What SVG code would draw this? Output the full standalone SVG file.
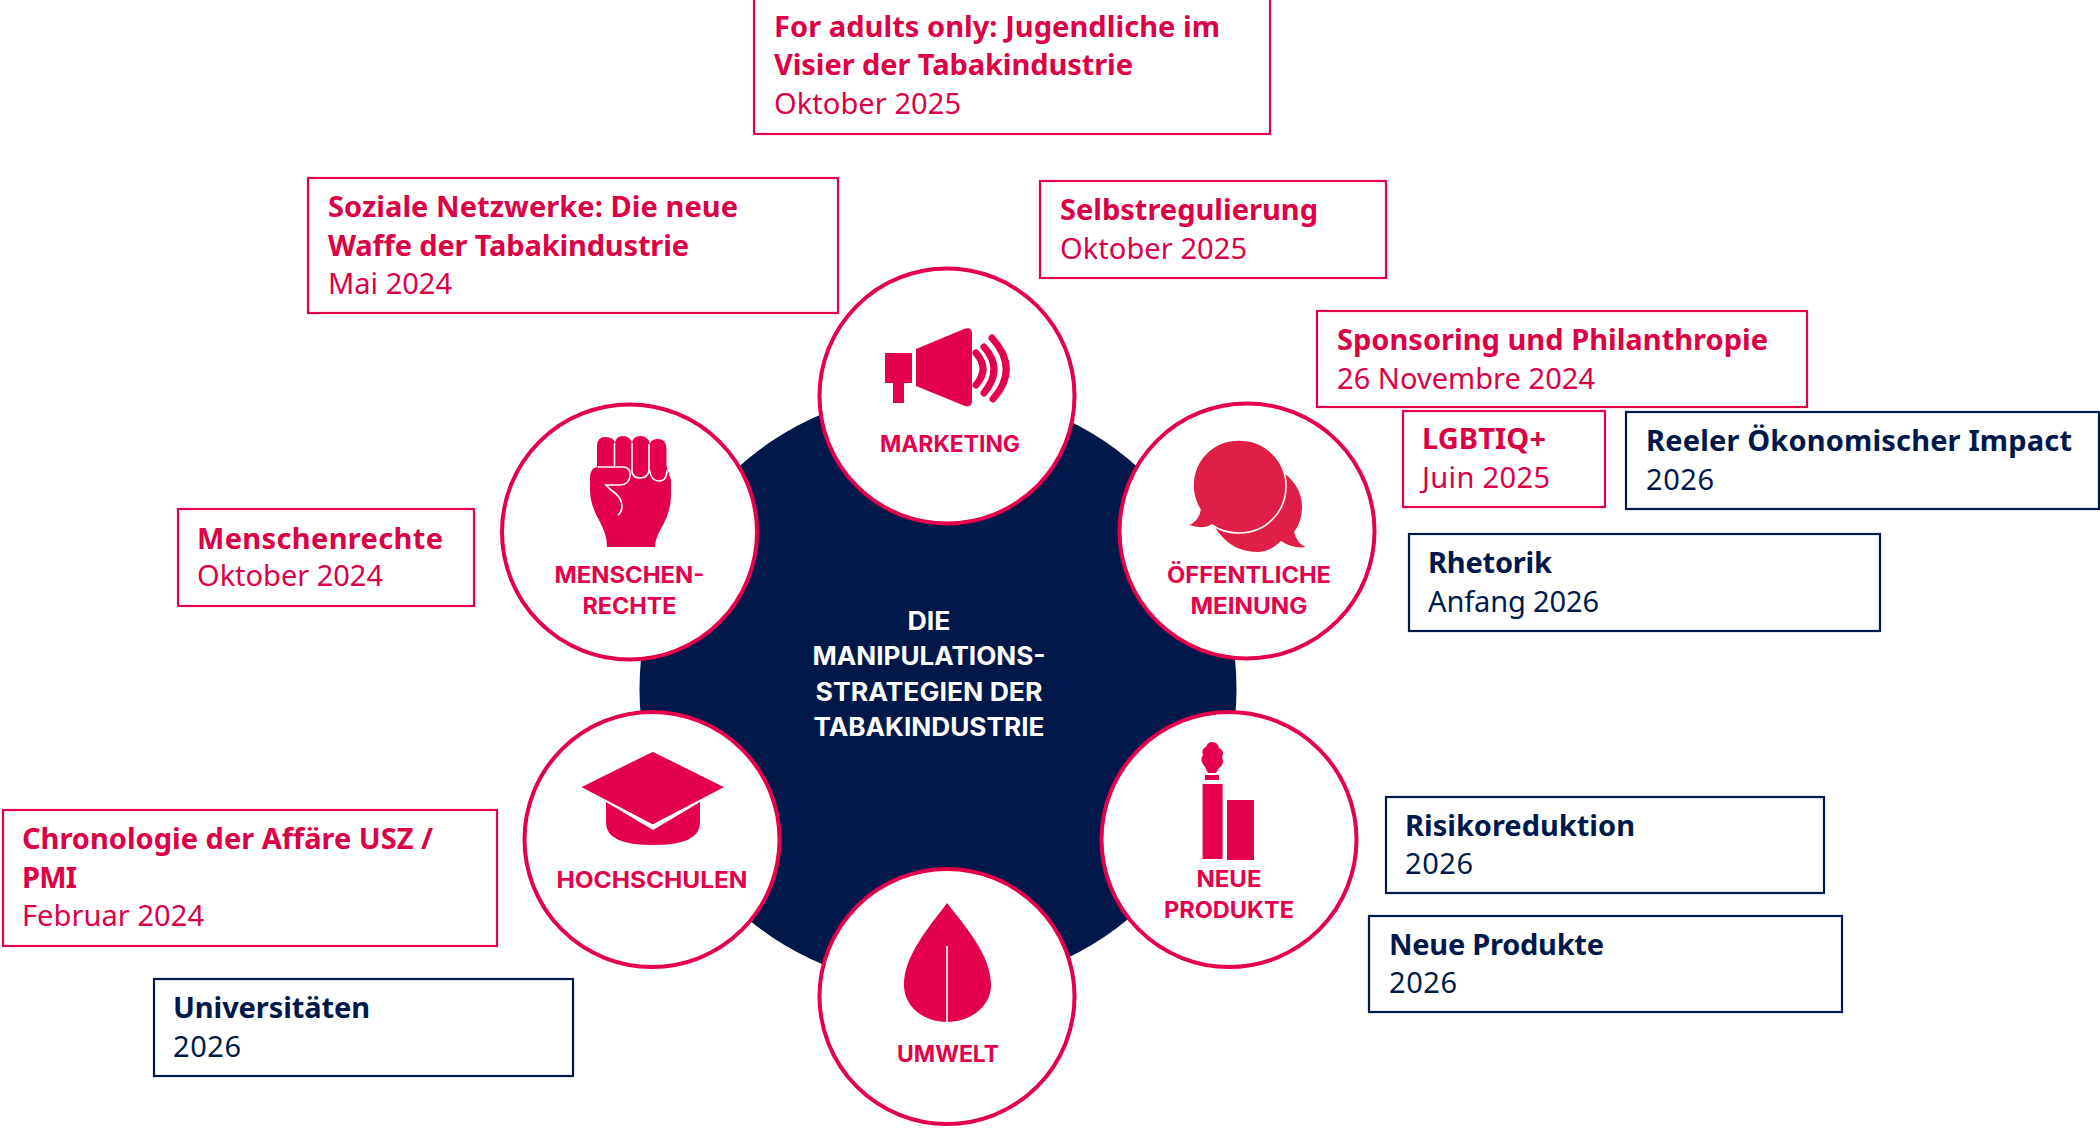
<svg xmlns="http://www.w3.org/2000/svg" width="2100" height="1139" viewBox="0 0 2100 1139">
<style>
.box{fill:#fff;stroke-width:2.2}
.r{stroke:#E4004B}
.n{stroke:#00194A}
text{font-family:"Noto Sans","Liberation Sans",sans-serif;font-size:29px}
.rt{fill:#DC0045}
.nt{fill:#00194A}
.b{font-weight:700}
.c{fill:#fff;stroke:#E4004B;stroke-width:4}
.lab{font-family:"Inter","Liberation Sans",sans-serif;font-size:22.500px;font-weight:700;fill:#E4004B;text-anchor:middle}
.mid{font-family:"Inter","Liberation Sans",sans-serif;font-size:25px;font-weight:700;fill:#fff;text-anchor:middle}
.i{fill:#E4004B}
.w{fill:none;stroke:#fff;stroke-width:1.6}
.wave{fill:none;stroke:#E4004B;stroke-width:7;stroke-linecap:round}
</style>
<rect width="2100" height="1139" fill="#fff"/>
<g id="hub"><circle cx="938" cy="689" r="298.500" fill="#00194A"/>
<text class="mid" x="929" y="630" textLength="43" lengthAdjust="spacingAndGlyphs">DIE</text>
<text class="mid" x="929" y="665" textLength="233" lengthAdjust="spacingAndGlyphs">MANIPULATIONS-</text>
<text class="mid" x="929" y="701" textLength="227" lengthAdjust="spacingAndGlyphs">STRATEGIEN DER</text>
<text class="mid" x="929" y="736" textLength="231" lengthAdjust="spacingAndGlyphs">TABAKINDUSTRIE</text></g>

<g id="marketing"><circle class="c" cx="947" cy="396" r="127.500"/>
<path class="i" d="M885 353H912V383H904V403H893V383H885Z"/>
<path class="i" d="M916 349L964 329Q972 326 972 334V400Q972 408 965 406L916 386Z"/>
<path class="wave" d="M976 353Q990 369 976 385"/><path class="wave" d="M984 347Q1004 369 984 393"/><path class="wave" d="M992 338Q1020 369 993 399"/>
<text class="lab" x="950" y="452" textLength="140" lengthAdjust="spacingAndGlyphs">MARKETING</text></g>

<g id="menschenrechte"><circle class="c" cx="629.500" cy="532" r="127.500"/>
<path class="i" d="M590 478Q590 468 597 467V446Q597 437 605.500 437Q614 437 615 443Q616 436 623 436Q630 436 632 443Q633 436 640.500 436Q648 436 650 444Q651 439 658 439Q666 439 666.500 448V466L671 480V495Q671 510 663 525Q655 538 655 547H607Q607 535 600 522Q590 505 590 490Z"/>
<path class="w" d="M597.500 467H624Q631 468 630 476Q629 485 620 485H606L611 490Q622 497 622 506Q622 512 618 515"/>
<path class="w" d="M632 443V472Q633 478 640 478Q648 478 649 470V444M649.500 470Q651 481 659 481Q667 481 667 470"/>
<path class="w" d="M614.500 443V466"/>
<text class="lab" x="629.500" y="583" textLength="150" lengthAdjust="spacingAndGlyphs">MENSCHEN-</text>
<text class="lab" x="629.500" y="614" textLength="94" lengthAdjust="spacingAndGlyphs">RECHTE</text></g>

<g id="oeffentliche-meinung"><circle class="c" cx="1247" cy="531" r="127.500"/>
<path fill="#DF1F47" d="M1284 473Q1302 487 1302 507Q1302 522 1294 532Q1297 544 1306 547Q1293 549 1281 541Q1270 552 1257 552Q1230 552 1214 526Z"/>
<path fill="#DF1F47" stroke="#fff" stroke-width="1.600" d="M1239 440C1265 440 1286 460 1286 486C1286 512 1266 533 1239 533C1228 533 1219 530 1212 525C1205 530 1195 528 1187 525C1194 523 1199 517 1200 510C1196 503 1193 495 1193 486C1193 460 1213 440 1239 440Z"/>
<text class="lab" x="1249" y="583" textLength="164" lengthAdjust="spacingAndGlyphs">ÖFFENTLICHE</text>
<text class="lab" x="1249" y="614" textLength="117" lengthAdjust="spacingAndGlyphs">MEINUNG</text></g>

<g id="hochschulen"><circle class="c" cx="652" cy="839.500" r="127.500"/>
<path class="i" d="M606 802V823Q606 845 653 845Q700 845 700 823V802L653 830Z"/>
<path class="i" stroke="#fff" stroke-width="1.400" d="M652.700 751L725.500 787L652.700 825L580 787Z"/>
<text class="lab" x="652" y="888" textLength="191" lengthAdjust="spacingAndGlyphs">HOCHSCHULEN</text></g>

<g id="neue-produkte"><circle class="c" cx="1229" cy="839.500" r="127.500"/>
<path class="i" d="M1212 742Q1218 742 1219 748Q1225 751 1222 757Q1225 764 1219 768L1216 773H1208L1205 767Q1199 760 1203 755Q1201 749 1206 747Q1208 742 1212 742Z"/>
<rect class="i" x="1205" y="775" width="14" height="5"/>
<rect class="i" x="1202.600" y="784" width="20" height="75"/>
<rect class="i" x="1227" y="800" width="27" height="60"/>
<text class="lab" x="1229" y="887" textLength="65" lengthAdjust="spacingAndGlyphs">NEUE</text>
<text class="lab" x="1229" y="918" textLength="130" lengthAdjust="spacingAndGlyphs">PRODUKTE</text></g>

<g id="umwelt"><circle class="c" cx="947" cy="996.500" r="127.500"/>
<path class="i" d="M947 903C965 926 991 955 991 985C991 1007 970 1022 947 1022C924 1022 904 1007 904 985C904 955 930 926 947 903Z"/>
<path class="w" d="M947 946V1022"/>
<text class="lab" x="948" y="1062" textLength="102" lengthAdjust="spacingAndGlyphs">UMWELT</text></g>

<g id="for-adults"><rect class="box r" x="754" y="-4" width="516" height="138"/>
<text class="rt b" x="774" y="37" textLength="446">For adults only: Jugendliche im</text>
<text class="rt b" x="774" y="75" textLength="359">Visier der Tabakindustrie</text>
<text class="rt" x="774" y="114" textLength="187">Oktober 2025</text></g>
<g id="selbstregulierung"><rect class="box r" x="1040" y="181" width="346" height="97"/>
<text class="rt b" x="1060" y="220" textLength="258">Selbstregulierung</text>
<text class="rt" x="1060" y="259" textLength="187">Oktober 2025</text></g>
<g id="soziale-netzwerke"><rect class="box r" x="308" y="178" width="530" height="135"/>
<text class="rt b" x="328" y="217" textLength="410">Soziale Netzwerke: Die neue</text>
<text class="rt b" x="328" y="256" textLength="361">Waffe der Tabakindustrie</text>
<text class="rt" x="328" y="294" textLength="124">Mai 2024</text></g>
<g id="sponsoring"><rect class="box r" x="1317" y="311" width="490" height="96"/>
<text class="rt b" x="1337" y="350" textLength="431">Sponsoring und Philanthropie</text>
<text class="rt" x="1337" y="389" textLength="258">26 Novembre 2024</text></g>
<g id="lgbtiq"><rect class="box r" x="1403" y="411" width="202" height="96"/>
<text class="rt b" x="1422" y="449" textLength="124">LGBTIQ+</text>
<text class="rt" x="1422" y="488" textLength="128">Juin 2025</text></g>
<g id="reeler-impact"><rect class="box n" x="1626" y="412" width="473" height="97"/>
<text class="nt b" x="1646" y="451" textLength="426">Reeler Ökonomischer Impact</text>
<text class="nt" x="1646" y="490" textLength="68">2026</text></g>
<g id="rhetorik"><rect class="box n" x="1409" y="534" width="471" height="97"/>
<text class="nt b" x="1428" y="573" textLength="124">Rhetorik</text>
<text class="nt" x="1428" y="612" textLength="171">Anfang 2026</text></g>
<g id="risikoreduktion"><rect class="box n" x="1386" y="797" width="438" height="96"/>
<text class="nt b" x="1405" y="836" textLength="230">Risikoreduktion</text>
<text class="nt" x="1405" y="874" textLength="68">2026</text></g>
<g id="neue-produkte-box"><rect class="box n" x="1369" y="916" width="473" height="96"/>
<text class="nt b" x="1389" y="955" textLength="215">Neue Produkte</text>
<text class="nt" x="1389" y="993" textLength="68">2026</text></g>
<g id="menschenrechte-box"><rect class="box r" x="178" y="509" width="296" height="97"/>
<text class="rt b" x="197" y="549" textLength="246">Menschenrechte</text>
<text class="rt" x="197" y="586" textLength="186">Oktober 2024</text></g>
<g id="chronologie"><rect class="box r" x="3" y="810" width="494" height="136"/>
<text class="rt b" x="22" y="849" textLength="411">Chronologie der Affäre USZ /</text>
<text class="rt b" x="22" y="888" textLength="55">PMI</text>
<text class="rt" x="22" y="926" textLength="182">Februar 2024</text></g>
<g id="universitaeten"><rect class="box n" x="154" y="979" width="419" height="97"/>
<text class="nt b" x="173" y="1018" textLength="197">Universitäten</text>
<text class="nt" x="173" y="1057" textLength="68">2026</text></g>
</svg>
